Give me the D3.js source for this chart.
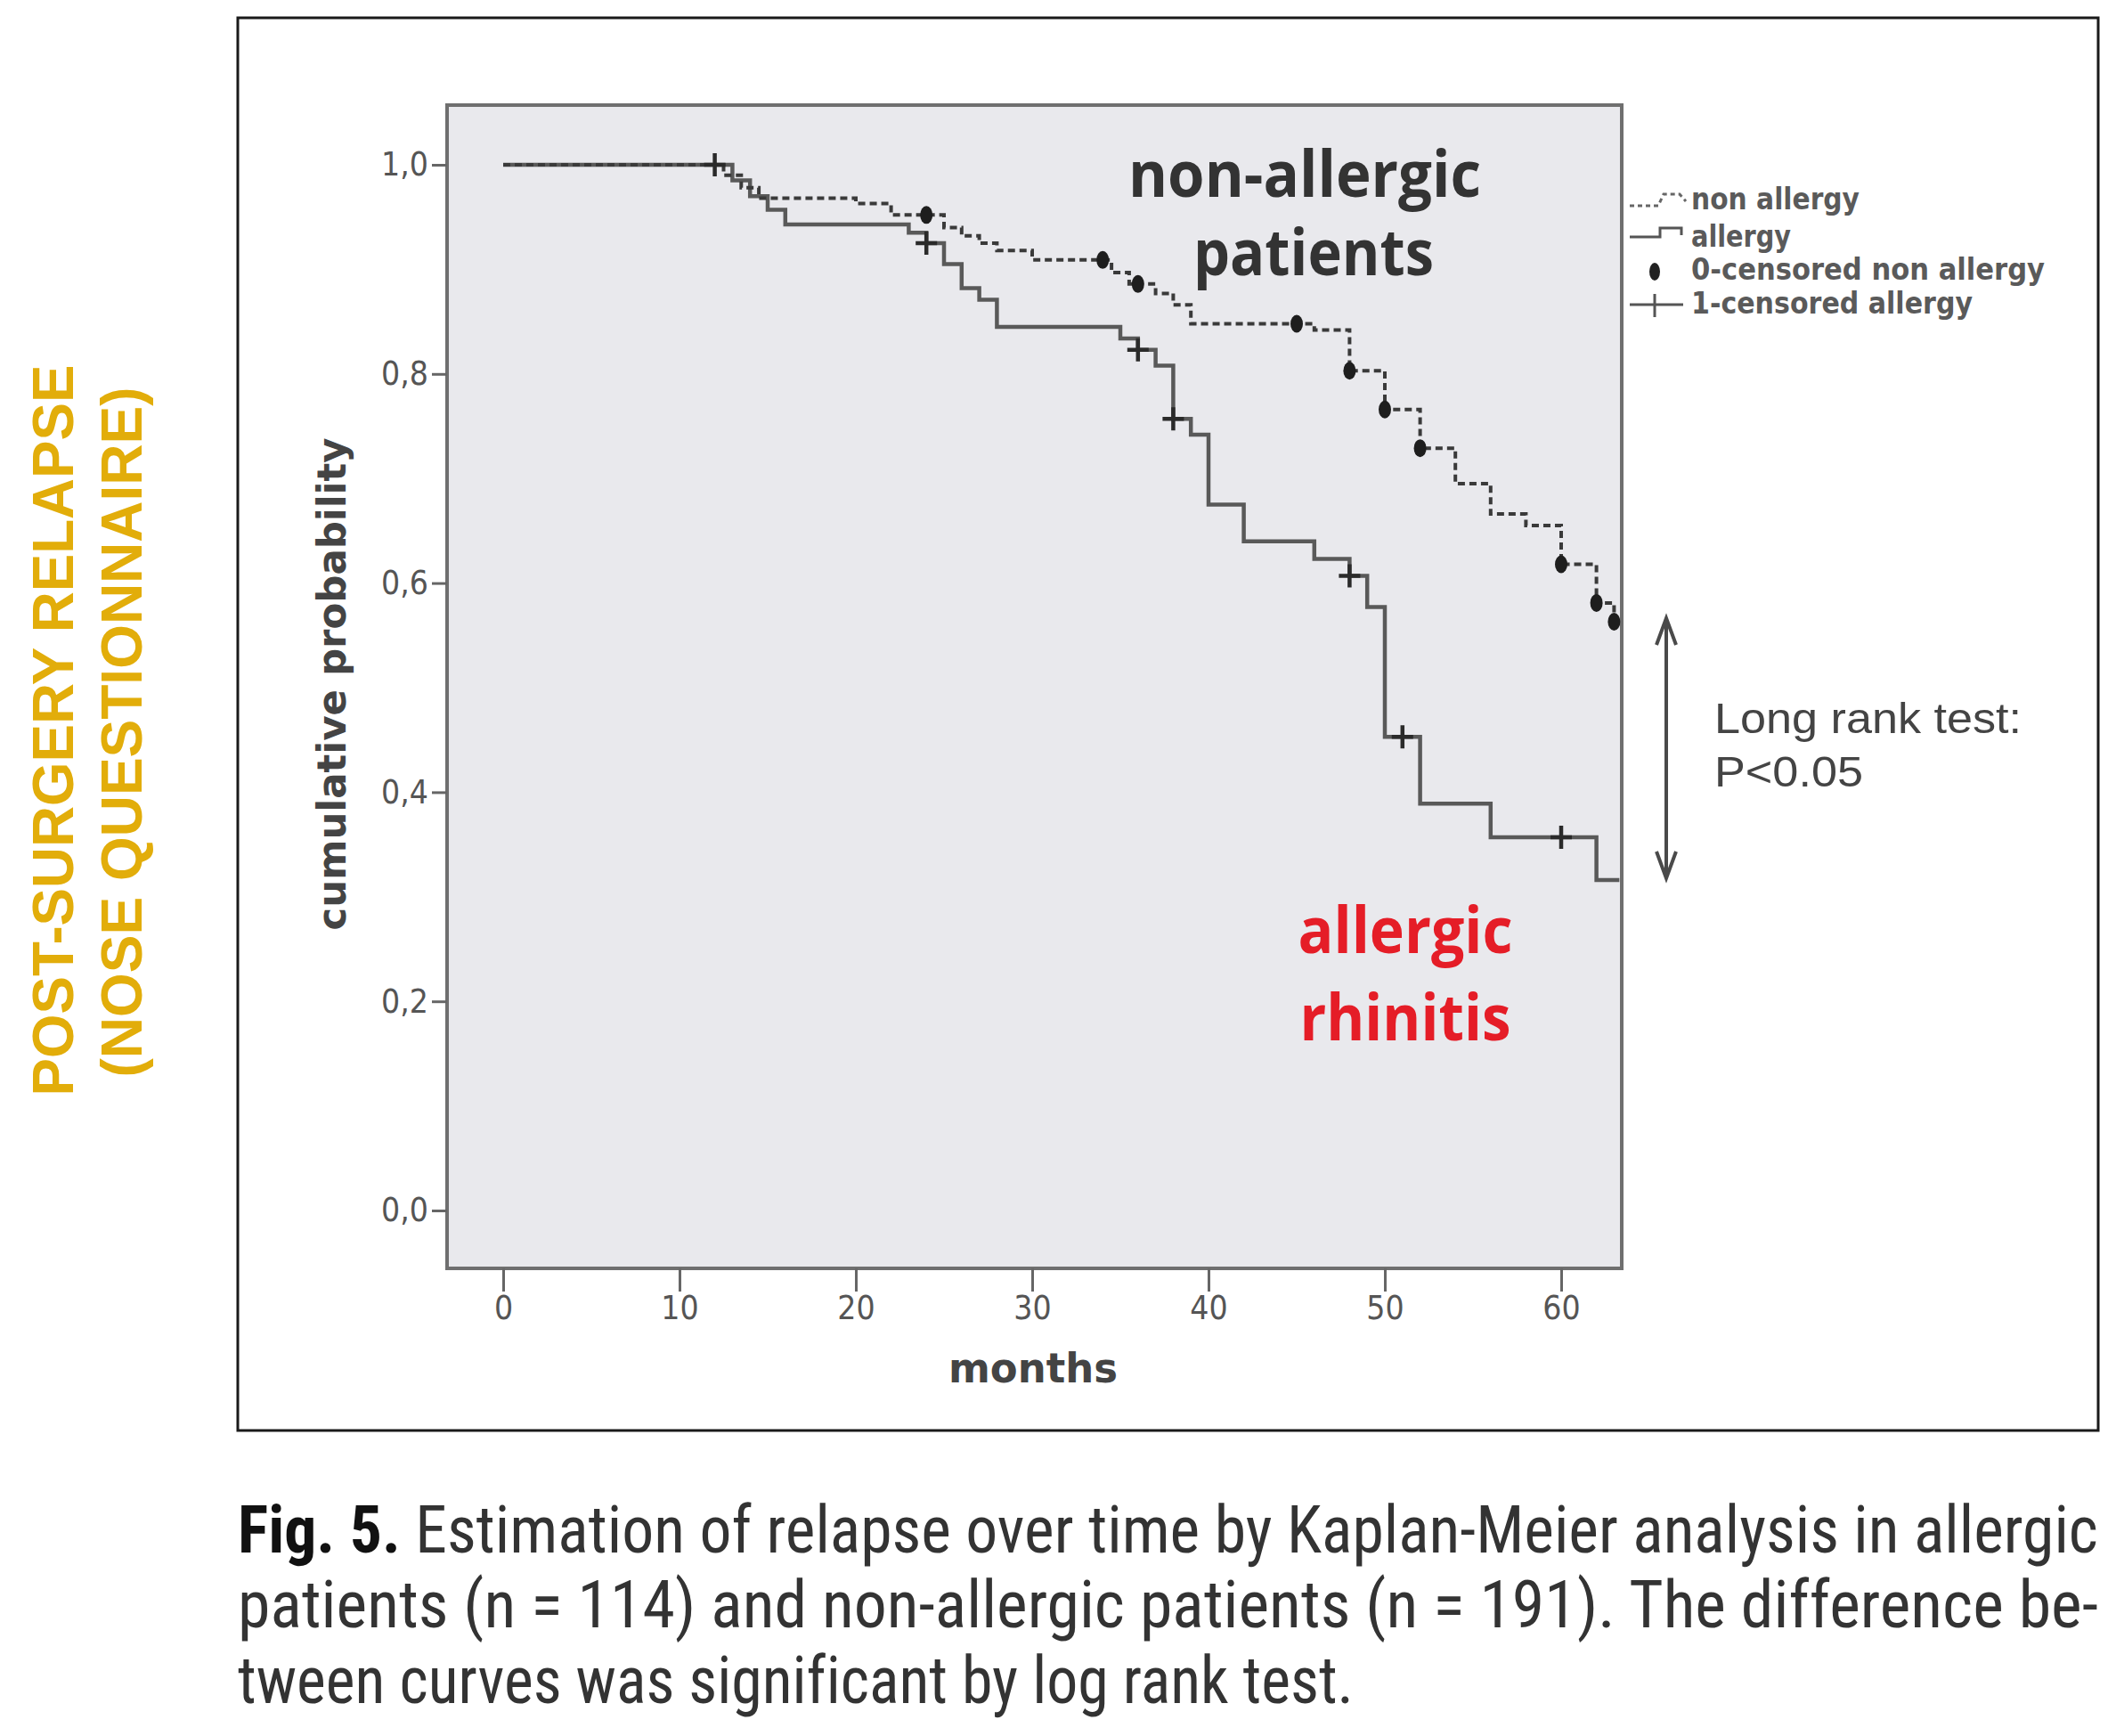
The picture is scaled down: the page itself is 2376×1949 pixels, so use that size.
<!DOCTYPE html>
<html>
<head>
<meta charset="utf-8">
<script src="https://cdn.jsdelivr.net/npm/d3@7"></script>
<style>
  body { margin: 0; background: #fff; }
  svg { display: block; }
  text { font-variant-ligatures: none; }
</style>
</head>
<body>
<script>
// ---- data (months / cumulative probability) ----
var allergyTime = [0, 13, 14, 15, 16, 23, 24, 25, 26, 27, 28, 35, 36, 37, 38, 39, 40, 42, 46, 48, 49, 50, 52, 56, 62, 63.3];
var allergySurv = [1, 0.985, 0.970, 0.957, 0.943, 0.935, 0.925, 0.905, 0.882, 0.871, 0.845, 0.834, 0.823, 0.808, 0.757, 0.742, 0.675, 0.640, 0.623, 0.607, 0.577, 0.453, 0.389, 0.357, 0.316, 0.316];
var allergyCensor = [12, 24, 36, 38, 48, 51, 60];

var nonTime = [0, 12.5, 13.5, 14.5, 20, 22, 25, 26, 27, 28, 30, 34.5, 35.5, 37, 38, 39, 46, 48, 50, 52, 54, 56, 58, 60, 62, 63, 63.3];
var nonSurv = [1, 0.990, 0.978, 0.968, 0.963, 0.952, 0.940, 0.932, 0.925, 0.918, 0.909, 0.897, 0.886, 0.877, 0.866, 0.848, 0.842, 0.803, 0.766, 0.729, 0.695, 0.666, 0.655, 0.618, 0.581, 0.563, 0.563];
var nonCensor = [24, 34, 36, 45, 48, 50, 52, 60, 62, 63];

var xTicks = [0, 10, 20, 30, 40, 50, 60];
var yTicks = [0, 0.2, 0.4, 0.6, 0.8, 1.0];

var legendLabels = ["non allergy", "allergy", "0-censored non allergy", "1-censored allergy"];
var captionLines = [
  "Estimation of relapse over time by Kaplan-Meier analysis in allergic",
  "patients (n = 114) and non-allergic patients (n = 191). The difference be-",
  "tween curves was significant by log rank test."
];

// ---- layout ----
var W = 2376, H = 1949;
var panel = {left: 502, top: 118, right: 1821, bottom: 1424};
var spss = "'DejaVu Sans Condensed', 'DejaVu Sans', sans-serif";

var svg = d3.select("body").append("svg")
  .attr("width", W).attr("height", H);

var x = d3.scaleLinear().domain([0, 60]).range([565, 1753]);
var y = d3.scaleLinear().domain([0, 1]).range([1359, 185]);

function survAt(times, surv, t) {
  var s = surv[0];
  for (var i = 0; i < times.length; i++) if (times[i] <= t) s = surv[i];
  return s;
}

// outer frame
svg.append("rect")
  .attr("x", 267).attr("y", 20).attr("width", 2356 - 267).attr("height", 1606 - 20)
  .attr("fill", "none").attr("stroke", "#1a1a1a").attr("stroke-width", 3);

// plot panel
svg.append("rect")
  .attr("x", panel.left).attr("y", panel.top)
  .attr("width", panel.right - panel.left).attr("height", panel.bottom - panel.top)
  .attr("fill", "#e9e9ed").attr("stroke", "#6f6f6f").attr("stroke-width", 4);

// axes
var yAxis = d3.axisLeft(y).tickValues(yTicks).tickSize(17).tickPadding(4)
  .tickFormat(function(d) { return d3.format(".1f")(d).replace(".", ","); });
var gy = svg.append("g").attr("transform", "translate(" + panel.left + ",0)").call(yAxis);

var xAxis = d3.axisBottom(x).tickValues(xTicks).tickSize(26).tickPadding(5);
var gx = svg.append("g").attr("transform", "translate(0," + panel.bottom + ")").call(xAxis);

[gx, gy].forEach(function(g) {
  g.select(".domain").remove();
  g.selectAll(".tick line").attr("stroke", "#666").attr("stroke-width", 3);
  g.selectAll(".tick text").attr("fill", "#555")
    .style("font-family", spss).style("font-size", "37px");
});

// axis titles
svg.append("text")
  .attr("x", 1160).attr("y", 1552).attr("text-anchor", "middle")
  .attr("textLength", 190).attr("lengthAdjust", "spacingAndGlyphs")
  .style("font-family", spss).style("font-size", "46px").style("font-weight", "bold")
  .attr("fill", "#444").text("months");

svg.append("text")
  .attr("transform", "translate(388,768) rotate(-90)").attr("text-anchor", "middle")
  .attr("textLength", 553).attr("lengthAdjust", "spacingAndGlyphs")
  .style("font-family", spss).style("font-size", "44px").style("font-weight", "bold")
  .attr("fill", "#444").text("cumulative probability");

// curves
var line = d3.line()
  .x(function(d) { return x(d[0]); })
  .y(function(d) { return y(d[1]); })
  .curve(d3.curveStepAfter);

var allergyData = allergyTime.map(function(t, i) { return [t, allergySurv[i]]; });
var nonData = nonTime.map(function(t, i) { return [t, nonSurv[i]]; });

svg.append("path").datum(allergyData).attr("d", line)
  .attr("fill", "none").attr("stroke", "#595959").attr("stroke-width", 4.5);

svg.append("path").datum(nonData).attr("d", line)
  .attr("fill", "none").attr("stroke", "#3a3a3a").attr("stroke-width", 4)
  .attr("stroke-dasharray", "8,5");

// censor marks: allergy "+"
svg.selectAll("path.censorA")
  .data(allergyCensor)
  .enter()
  .append("path")
  .attr("class", "censorA")
  .attr("d", function(t) {
    var cx = x(t), cy = y(survAt(allergyTime, allergySurv, t));
    return "M" + (cx - 12) + "," + cy + "H" + (cx + 12) + "M" + cx + "," + (cy - 13) + "V" + (cy + 13);
  })
  .attr("stroke", "#2a2a2a").attr("stroke-width", 4.5).attr("fill", "none");

// censor marks: non allergy dots
svg.selectAll("ellipse.censorN")
  .data(nonCensor)
  .enter()
  .append("ellipse")
  .attr("class", "censorN")
  .attr("cx", function(t) { return x(t); })
  .attr("cy", function(t) { return y(survAt(nonTime, nonSurv, t)); })
  .attr("rx", 7).attr("ry", 10)
  .attr("fill", "#1e1e1e");

// legend
var legendY = [235, 277, 314, 352];
var legendLen = [189, 112, 397, 316];
var lg = svg.append("g");
lg.selectAll("text")
  .data(legendLabels)
  .enter()
  .append("text")
  .attr("x", 1899)
  .attr("y", function(d, i) { return legendY[i]; })
  .attr("textLength", function(d, i) { return legendLen[i]; })
  .attr("lengthAdjust", "spacingAndGlyphs")
  .style("font-family", spss).style("font-size", "34px").style("font-weight", "bold")
  .attr("fill", "#5a5a5a")
  .text(function(d) { return d; });

lg.append("path")
  .attr("d", "M1830,231 H1862 L1868,218 H1886 L1893,226")
  .attr("fill", "none").attr("stroke", "#666").attr("stroke-width", 3).attr("stroke-dasharray", "5,4");
lg.append("path")
  .attr("d", "M1830,266 H1864 V256 H1888 V264")
  .attr("fill", "none").attr("stroke", "#555").attr("stroke-width", 3);
lg.append("ellipse")
  .attr("cx", 1858).attr("cy", 305).attr("rx", 6).attr("ry", 10).attr("fill", "#222");
lg.append("path")
  .attr("d", "M1830,342 H1890 M1858,330 V356")
  .attr("fill", "none").attr("stroke", "#555").attr("stroke-width", 3);

// annotations
var ann = "'Open Sans', 'Noto Sans', sans-serif";
svg.append("text").attr("x", 1465).attr("y", 221).attr("text-anchor", "middle")
  .attr("textLength", 396).attr("lengthAdjust", "spacingAndGlyphs")
  .style("font-family", ann).style("font-size", "72px").style("font-weight", "bold")
  .attr("fill", "#333").text("non-allergic");
svg.append("text").attr("x", 1475).attr("y", 309).attr("text-anchor", "middle")
  .attr("textLength", 270).attr("lengthAdjust", "spacingAndGlyphs")
  .style("font-family", ann).style("font-size", "72px").style("font-weight", "bold")
  .attr("fill", "#333").text("patients");

svg.append("text").attr("x", 1578).attr("y", 1070).attr("text-anchor", "middle")
  .attr("textLength", 241).attr("lengthAdjust", "spacingAndGlyphs")
  .style("font-family", ann).style("font-size", "72px").style("font-weight", "bold")
  .attr("fill", "#e51d27").text("allergic");
svg.append("text").attr("x", 1578).attr("y", 1168).attr("text-anchor", "middle")
  .attr("textLength", 237).attr("lengthAdjust", "spacingAndGlyphs")
  .style("font-family", ann).style("font-size", "72px").style("font-weight", "bold")
  .attr("fill", "#e51d27").text("rhinitis");

// double arrow
svg.append("path")
  .attr("d", "M1871,696 V984 M1860,724 L1871,694 L1882,724 M1860,956 L1871,986 L1882,956")
  .attr("fill", "none").attr("stroke", "#4a4a4a").attr("stroke-width", 4);

var arial = "'Liberation Sans', Arial, sans-serif";
svg.append("text").attr("x", 1925).attr("y", 823)
  .attr("textLength", 345).attr("lengthAdjust", "spacingAndGlyphs")
  .style("font-family", arial).style("font-size", "48px")
  .attr("fill", "#444").text("Long rank test:");
svg.append("text").attr("x", 1925).attr("y", 883)
  .attr("textLength", 167).attr("lengthAdjust", "spacingAndGlyphs")
  .style("font-family", arial).style("font-size", "48px")
  .attr("fill", "#444").text("P<0.05");

// left side title
svg.append("text").attr("transform", "translate(82,820) rotate(-90)").attr("text-anchor", "middle")
  .attr("textLength", 821).attr("lengthAdjust", "spacingAndGlyphs")
  .style("font-family", arial).style("font-size", "64px").style("font-weight", "bold")
  .attr("fill", "#e2ad0a").text("POST-SURGERY RELAPSE");
svg.append("text").attr("transform", "translate(159,822) rotate(-90)").attr("text-anchor", "middle")
  .attr("textLength", 775).attr("lengthAdjust", "spacingAndGlyphs")
  .style("font-family", arial).style("font-size", "64px").style("font-weight", "bold")
  .attr("fill", "#e2ad0a").text("(NOSE QUESTIONNAIRE)");

// caption
var capFont = "'Liberation Sans Narrow', 'Roboto Condensed', 'Liberation Sans', Arial, sans-serif";
var capY = [1743, 1827, 1912];
var capLen = [2089, 2089, 1253];
captionLines.forEach(function(txt, i) {
  var t = svg.append("text").attr("x", 267).attr("y", capY[i])
    .attr("textLength", capLen[i]).attr("lengthAdjust", "spacingAndGlyphs")
    .style("font-family", capFont).style("font-size", "74px")
    .attr("fill", "#333");
  if (i === 0) {
    t.append("tspan").style("font-weight", "bold").attr("fill", "#111").text("Fig. 5. ");
  }
  t.append("tspan").text(txt);
});
</script>
</body>
</html>
